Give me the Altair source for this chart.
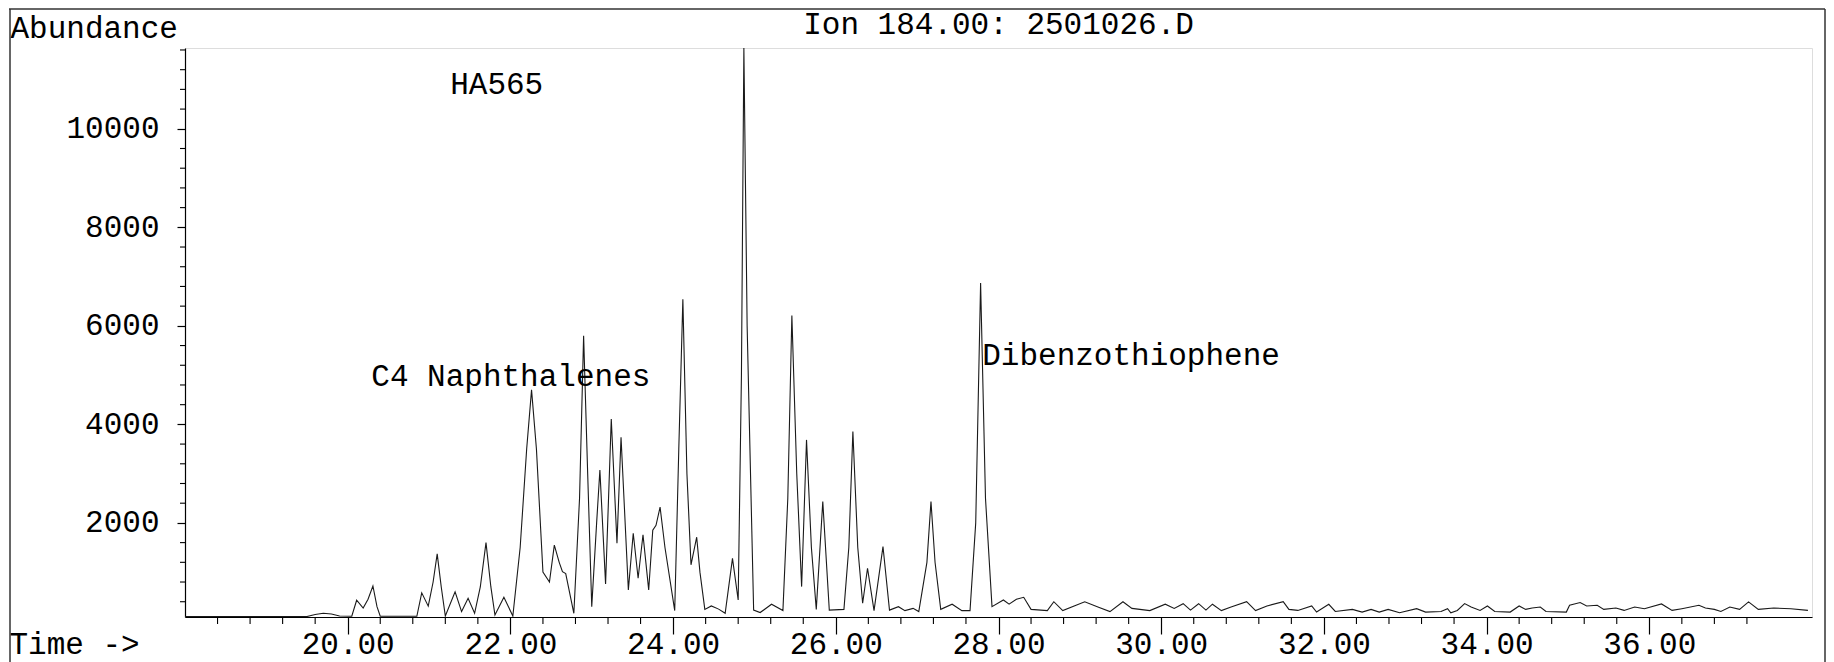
import altair as alt
import pandas as pd

# ---- chromatogram trace (time in minutes, abundance) ----
times = [18.00, 19.50, 19.60, 19.70, 19.80, 19.90, 20.05, 20.11, 20.19, 20.25, 20.31, 20.36, 20.40,
         20.85, 20.91, 20.99, 21.05, 21.10, 21.15, 21.20, 21.32, 21.40, 21.48, 21.56, 21.63, 21.70,
         21.76, 21.81, 21.92, 22.03, 22.12, 22.20, 22.26, 22.32, 22.40, 22.48, 22.54, 22.60, 22.64,
         22.68, 22.78, 22.85, 22.90, 22.95, 23.00, 23.06, 23.10, 23.17, 23.24, 23.31, 23.36, 23.45,
         23.51, 23.57, 23.63, 23.70, 23.75, 23.79, 23.84, 23.90, 24.02, 24.07, 24.12, 24.17, 24.22,
         24.29, 24.33, 24.39, 24.47, 24.56, 24.64, 24.73, 24.80, 24.84, 24.87, 24.91, 24.99, 25.07,
         25.21, 25.35, 25.41, 25.46, 25.52, 25.58, 25.64, 25.70, 25.76, 25.84, 25.92, 26.10, 26.16,
         26.21, 26.27, 26.33, 26.39, 26.47, 26.58, 26.66, 26.77, 26.85, 26.95, 27.02, 27.12, 27.17,
         27.22, 27.29, 27.43, 27.55, 27.65, 27.72, 27.78, 27.84, 27.92, 28.06, 28.13, 28.22, 28.31,
         28.40, 28.60, 28.68, 28.79, 29.06, 29.23, 29.37, 29.53, 29.64, 29.86, 30.05, 30.16, 30.27,
         30.36, 30.46, 30.55, 30.63, 30.74, 30.85, 31.05, 31.16, 31.30, 31.50, 31.57, 31.68, 31.85,
         31.91, 32.06, 32.14, 32.35, 32.47, 32.58, 32.68, 32.79, 32.93, 33.14, 33.25, 33.44, 33.52,
         33.56, 33.64, 33.73, 33.81, 33.92, 34.01, 34.10, 34.29, 34.40, 34.48, 34.56, 34.66, 34.73,
         34.98, 35.02, 35.15, 35.23, 35.36, 35.44, 35.59, 35.69, 35.82, 35.94, 36.15, 36.28, 36.40,
         36.61, 36.69, 36.80, 36.88, 36.99, 37.11, 37.22, 37.34, 37.53, 37.74, 37.95]
abundance = [100, 100, 140, 165, 150, 110, 105, 430, 270, 450, 720, 300, 105,
             105, 580, 310, 800, 1370, 700, 110, 600, 200, 470, 165, 700, 1600,
             700, 130, 490, 110, 1500, 3500, 4700, 3500, 1000, 800, 1550, 1200, 1010,
             970, 165, 2500, 5800, 3000, 300, 2000, 3075, 760, 4110, 1590, 3740, 640,
             1790, 877, 1760, 640, 1850, 1950, 2320, 1500, 220, 3500, 6540, 3000, 1150,
             1710, 1000, 245, 315, 250, 165, 1280, 436, 5000, 11640, 6000, 230, 180,
             350, 220, 2500, 6210, 3000, 707, 3685, 1500, 245, 2433, 230, 245, 1500,
             3855, 1500, 370, 1080, 220, 1520, 230, 300, 220, 265, 200, 1200, 2433,
             1200, 245, 350, 220, 220, 2000, 6870, 2500, 300, 436, 350, 450, 490,
             245, 220, 400, 220, 400, 290, 200, 400, 265, 220, 350, 265, 360,
             230, 360, 230, 350, 220, 290, 400, 220, 315, 400, 245, 224, 314,
             190, 348, 203, 245, 190, 245, 190, 245, 176, 259, 190, 203, 259,
             176, 224, 362, 293, 224, 314, 203, 190, 314, 245, 272, 293, 203,
             190, 328, 383, 314, 328, 245, 272, 224, 293, 259, 355, 224, 259,
             328, 272, 245, 203, 293, 245, 397, 245, 272, 259, 224]

# ---- axis ticks ----
x_major = [20, 22, 24, 26, 28, 30, 32, 34, 36]
x_minor = [18.4, 18.8, 19.2, 19.6, 20.4, 20.8, 21.2, 21.6, 22.4, 22.8, 23.2, 23.6, 24.4, 24.8,
           25.2, 25.6, 26.4, 26.8, 27.2, 27.6, 28.4, 28.8, 29.2, 29.6, 30.4, 30.8, 31.2, 31.6,
           32.4, 32.8, 33.2, 33.6, 34.4, 34.8, 35.2, 35.6, 36.4, 36.8, 37.2]
y_major = [2000, 4000, 6000, 8000, 10000]
y_minor = [400, 800, 1200, 1600, 2400, 2800, 3200, 3600, 4400, 4800, 5200, 5600, 6400, 6800,
           7200, 7600, 8400, 8800, 9200, 9600, 10400, 10800, 11200, 11600]

# ---- annotations ----
ann_text = ["HA565", "C4 Naphthalenes", "Dibenzothiophene"]
ann_time = [21.26, 20.29, 27.80]
ann_abund = [10710, 4780, 5210]

title_text = "Ion 184.00: 2501026.D"

FONT = "Liberation Mono"
FS = 31
W, H = 1627, 569

xs = alt.Scale(domain=[18, 38], nice=False, zero=False)
ys = alt.Scale(domain=[90, 11640], nice=False, zero=False)

trace = pd.DataFrame({"t": times, "v": abundance})

line = alt.Chart(trace).mark_line(color="#1a1a1a", strokeWidth=1.1, clip=True).encode(
    x=alt.X("t:Q", scale=xs, axis=alt.Axis(
        values=x_major, format=".2f", tickSize=17, tickColor="black", tickWidth=1.2,
        labelPadding=19, labelBaseline="alphabetic", labelFont=FONT, labelFontSize=FS,
        labelColor="black", labelFlush=False, labelOverlap=False, grid=False,
        domainColor="black", domainWidth=1.2,
        title="Time ->", titleFont=FONT, titleFontSize=FS, titleFontWeight="normal",
        titleColor="black", titleAlign="left", titleBaseline="alphabetic",
        titleX=-176, titleY=36)),
    y=alt.Y("v:Q", scale=ys, axis=alt.Axis(
        values=y_major, format="d", tickSize=8, tickColor="black", tickWidth=1.2,
        labelPadding=18, labelFont=FONT, labelFontSize=FS, labelColor="black",
        labelFlush=False, labelOverlap=False, grid=False,
        domainColor="black", domainWidth=1.2,
        title="Abundance", titleFont=FONT, titleFontSize=FS, titleFontWeight="normal",
        titleColor="black", titleAngle=0, titleAlign="left", titleBaseline="alphabetic",
        titleX=-175, titleY=-11)),
)

xminor = alt.Chart(pd.DataFrame({"t": x_minor})).mark_rule(color="black", strokeWidth=1.1).encode(
    x=alt.X("t:Q", scale=xs), y=alt.value(H), y2=alt.value(H + 7))

yminor = alt.Chart(pd.DataFrame({"v": y_minor})).mark_rule(color="black", strokeWidth=1.1).encode(
    y=alt.Y("v:Q", scale=ys), x=alt.value(-5), x2=alt.value(0))

ann = alt.Chart(pd.DataFrame({"t": ann_time, "v": ann_abund, "s": ann_text})).mark_text(
    font=FONT, fontSize=FS, align="left", baseline="alphabetic", color="black").encode(
    x=alt.X("t:Q", scale=xs), y=alt.Y("v:Q", scale=ys), text="s:N")

title = alt.Chart(pd.DataFrame({"s": [title_text]})).mark_text(
    font=FONT, fontSize=FS, align="center", baseline="alphabetic", color="black").encode(
    x=alt.value(W / 2), y=alt.value(-14), text="s:N")

one = pd.DataFrame({"a": [0]})
frame_top = alt.Chart(one).mark_rule(color="#333", strokeWidth=1.5).encode(
    x=alt.value(-176), x2=alt.value(1640), y=alt.value(-39))
frame_left = alt.Chart(one).mark_rule(color="#333", strokeWidth=1.5).encode(
    x=alt.value(-175), y=alt.value(-39), y2=alt.value(H + 50))
frame_right = alt.Chart(one).mark_rule(color="#333", strokeWidth=1.5).encode(
    x=alt.value(1640), y=alt.value(-39), y2=alt.value(H + 50))

chart = alt.layer(line, xminor, yminor, ann, title, frame_top, frame_left, frame_right).properties(
    width=W, height=H, autosize="none",
    padding={"left": 177, "top": 40, "right": 14, "bottom": 45},
).configure_view(stroke=None).configure(background="white")

chart.save("out.html", embed_options={"renderer": "svg", "actions": False})
